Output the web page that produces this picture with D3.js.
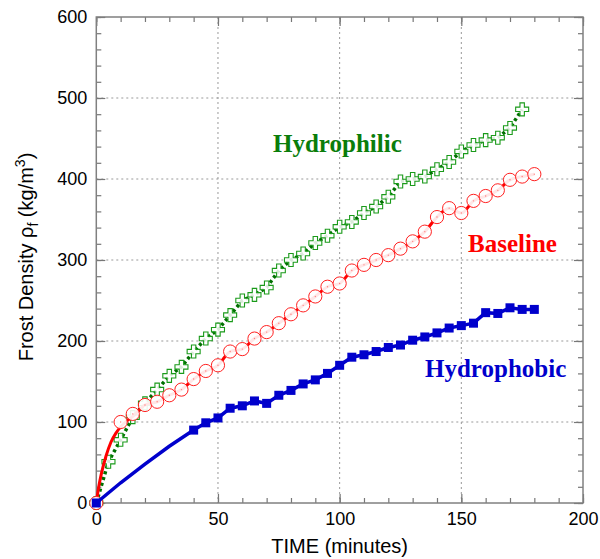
<!DOCTYPE html>
<html lang="en">
<head>
<meta charset="utf-8">
<title>Frost density</title>
<script src="https://cdn.jsdelivr.net/npm/d3@7"></script>
<style>
  body { margin: 0; background: #fff; }
  .tick text { font-family: "Liberation Sans", Arial, sans-serif; font-size: 18px; fill: #000; }
  .frame-axis path { display: none; }
  .frame-axis line { stroke: #777; stroke-width: 1.2; }
  .grid line { stroke: #999; stroke-width: 1; stroke-dasharray: 2,3; }
  .label { font-family: "Liberation Serif", "Times New Roman", serif; font-weight: bold; font-size: 25px; }
  .title { font-family: "Liberation Sans", Arial, sans-serif; font-size: 20px; fill: #000; }
</style>
</head>
<body>
<script>
// values
var hydrophilicT = [0,5,10,15,20,25,30,35,40,45,50,55,60,65,70,75,80,85,90,95,100,105,110,115,120,125,130,135,140,145,150,155,160,165,170,175];
var hydrophilicV = [0,51,78,106,123,140,157,168,187,203,214,232,250,257,266,287,300,308,321,330,341,347,358,366,378,397,400,403,412,421,434,442,448,451,463,486];

var baselineT = [0,10,15,20,25,30,35,40,45,50,55,60,65,70,75,80,85,90,95,100,105,110,115,120,125,130,135,140,145,150,155,160,165,170,175,180];
var baselineV = [0,100,110,121,125,133,140,153,163,170,187,190,203,211,222,233,244,255,267,271,287,294,300,306,314,323,335,353,364,358,373,379,386,399,403,406];
// early part of the red curve (before the markers take over)
var baselineFitT = [0,1,2,4,6,8,10,12,15];
var baselineFitV = [0,20,35,58,75,86,94,100,107];

var hydrophobicT = [0,40,45,50,55,60,65,70,75,80,85,90,95,100,105,110,115,120,125,130,135,140,145,150,155,160,165,170,175,180];
var hydrophobicV = [0,90,99,105,117,120,126,123,133,139,147,152,160,170,180,183,187,192,195,201,205,210,216,219,222,235,234,241,239,239];
var hydrophobicFitT = [0,10,20,30];
var hydrophobicFitV = [0,25,48,70];

var xTicks = [0,50,100,150,200];
var yTicks = [0,100,200,300,400,500,600];

var w = 600, h = 559;
var plotLeft = 96.3, plotRight = 583, plotTop = 17, plotBottom = 503;

var x = d3.scaleLinear().domain([0, 200]).range([plotLeft, plotRight]);
var y = d3.scaleLinear().domain([0, 600]).range([plotBottom, plotTop]);

var svg = d3.select("body").append("svg").attr("width", w).attr("height", h);

function pts(ts, vs) { return ts.map(function(t, i) { return [t, vs[i]]; }); }

// grid
svg.append("g").attr("class", "grid")
  .selectAll("line").data(xTicks.slice(1, -1)).join("line")
  .attr("x1", function(d) { return x(d); }).attr("x2", function(d) { return x(d); })
  .attr("y1", plotTop).attr("y2", plotBottom);
svg.append("g").attr("class", "grid")
  .selectAll("line").data(yTicks.slice(1, -1)).join("line")
  .attr("x1", plotLeft).attr("x2", plotRight)
  .attr("y1", function(d) { return y(d); }).attr("y2", function(d) { return y(d); });

// axes, ticks pointing inward on all four sides
var xMinor = d3.range(0, 201, 10), yMinor = d3.range(0, 601, 20);
function addAxis(axis, tf, vals, size, labels) {
  var a = axis.tickValues(vals).tickSizeInner(-size).tickSizeOuter(0).tickPadding(9);
  if (!labels) a.tickFormat("");
  svg.append("g").attr("class", "frame-axis").attr("transform", tf).call(a);
}
addAxis(d3.axisBottom(x), "translate(0," + plotBottom + ")", xMinor, 5, false);
addAxis(d3.axisBottom(x), "translate(0," + plotBottom + ")", xTicks, 9, true);
addAxis(d3.axisTop(x), "translate(0," + plotTop + ")", xMinor, 5, false);
addAxis(d3.axisTop(x), "translate(0," + plotTop + ")", xTicks, 9, false);
addAxis(d3.axisLeft(y), "translate(" + plotLeft + ",0)", yMinor, 5, false);
addAxis(d3.axisLeft(y), "translate(" + plotLeft + ",0)", yTicks, 9, true);
addAxis(d3.axisRight(y), "translate(" + plotRight + ",0)", yMinor, 5, false);
addAxis(d3.axisRight(y), "translate(" + plotRight + ",0)", yTicks, 9, false);

svg.append("rect").attr("x", plotLeft).attr("y", plotTop)
  .attr("width", plotRight - plotLeft).attr("height", plotBottom - plotTop)
  .attr("fill", "none").attr("stroke", "#808080").attr("stroke-width", 1.5);

var line = d3.line().x(function(d) { return x(d[0]); }).y(function(d) { return y(d[1]); });
var smooth = d3.line().curve(d3.curveMonotoneX)
  .x(function(d) { return x(d[0]); }).y(function(d) { return y(d[1]); });

// Hydrophilic: dotted dark green line with open crosses
var green = pts(hydrophilicT, hydrophilicV);
svg.append("path").datum(green).attr("d", line)
  .attr("fill", "none").attr("stroke", "#007000").attr("stroke-width", 3.5)
  .attr("stroke-dasharray", "3,3");
var cross = "M-2.2,-6.5H2.2V-2.2H6.5V2.2H2.2V6.5H-2.2V2.2H-6.5V-2.2H-2.2Z";
svg.append("g").selectAll("path").data(green).join("path")
  .attr("transform", function(d) { return "translate(" + x(d[0]) + "," + y(d[1]) + ")"; })
  .attr("d", cross).attr("fill", "#fff").attr("fill-opacity", 0.85)
  .attr("stroke", "#1a9a1a").attr("stroke-width", 1.1);

// Baseline: red line with open circles
var red = pts(baselineT, baselineV);
var redLine = pts(baselineFitT, baselineFitV).concat(red.filter(function(d) { return d[0] >= 20; }));
svg.append("path").datum(redLine).attr("d", smooth)
  .attr("fill", "none").attr("stroke", "#ff0000").attr("stroke-width", 3);
svg.append("g").selectAll("circle").data(red).join("circle")
  .attr("cx", function(d) { return x(d[0]); }).attr("cy", function(d) { return y(d[1]); })
  .attr("r", 6.6).attr("fill", "#fff").attr("fill-opacity", 0.9)
  .attr("stroke", "#ff2020").attr("stroke-width", 1);
svg.append("g").selectAll("circle").data(red).join("circle")
  .attr("cx", function(d) { return x(d[0]); }).attr("cy", function(d) { return y(d[1]); })
  .attr("r", 0.7).attr("fill", "#ff8080");

// Hydrophobic: solid blue line with filled squares
var blue = pts(hydrophobicT, hydrophobicV);
var blueLine = pts(hydrophobicFitT, hydrophobicFitV).concat(blue.slice(1));
svg.append("path").datum(blueLine).attr("d", line)
  .attr("fill", "none").attr("stroke", "#0000cc").attr("stroke-width", 3.5);
svg.append("g").selectAll("rect").data(blue).join("rect")
  .attr("x", function(d) { return x(d[0]) - 4.5; }).attr("y", function(d) { return y(d[1]) - 4.5; })
  .attr("width", 9).attr("height", 9).attr("fill", "#0000cc");

// series labels
svg.append("text").attr("class", "label").attr("x", 273).attr("y", 152)
  .attr("fill", "#0a7d0a").text("Hydrophilic");
svg.append("text").attr("class", "label").attr("x", 468).attr("y", 252)
  .attr("fill", "#ff0000").text("Baseline");
svg.append("text").attr("class", "label").attr("x", 425).attr("y", 377)
  .attr("fill", "#0000cc").text("Hydrophobic");

// axis titles
svg.append("text").attr("class", "title").attr("x", x(100)).attr("y", 553)
  .attr("text-anchor", "middle").text("TIME (minutes)");

var yt = svg.append("text").attr("class", "title")
  .attr("transform", "rotate(-90)").attr("x", -257).attr("y", 33)
  .attr("text-anchor", "middle");
yt.append("tspan").text("Frost Density \u03c1");
yt.append("tspan").attr("dy", 5).attr("font-size", 14).text("f");
yt.append("tspan").attr("dy", -5).text(" (kg/m");
yt.append("tspan").attr("dy", -8).attr("font-size", 14).text("3");
yt.append("tspan").attr("dy", 8).text(")");
</script>
</body>
</html>
